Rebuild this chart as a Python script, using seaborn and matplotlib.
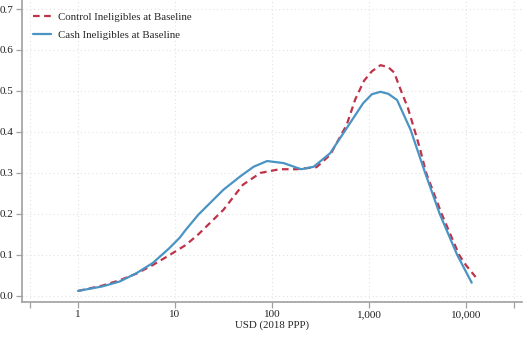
import numpy as np
import pandas as pd
import matplotlib
matplotlib.use("Agg")
import matplotlib.pyplot as plt
import matplotlib.ticker as mticker
import seaborn as sns

# values (USD, density)
cash_usd = [1, 1.78, 2.69, 3.98, 5.89, 8.71, 11.2, 12.9, 17.4, 31.6, 46.8, 64.6,
            89.1, 132, 200, 269, 398, 589, 871, 1072, 1318, 1585, 1950, 2692,
            3162, 3802, 5370, 8128, 11482]
cash_density = [0.012, 0.023, 0.035, 0.055, 0.080, 0.116, 0.142, 0.161, 0.198,
                0.259, 0.291, 0.315, 0.329, 0.324, 0.309, 0.315, 0.348, 0.409,
                0.470, 0.492, 0.498, 0.493, 0.478, 0.405, 0.356, 0.300, 0.200,
                0.100, 0.032]

control_usd = [1, 1.78, 2.69, 3.98, 5.89, 8.71, 12.9, 17.4, 31.6, 50.1, 75.9, 120,
               178, 288, 398, 589, 724, 891, 1072, 1318, 1585, 1820, 2188, 2512,
               2951, 3388, 3890, 5623, 8511, 10000, 12589]
control_density = [0.012, 0.025, 0.038, 0.054, 0.075, 0.099, 0.124, 0.150, 0.210,
                   0.271, 0.300, 0.309, 0.309, 0.314, 0.344, 0.417, 0.480, 0.525,
                   0.548, 0.563, 0.558, 0.545, 0.495, 0.460, 0.405, 0.356, 0.300,
                   0.200, 0.100, 0.075, 0.046]

series_labels = ["Control Ineligibles at Baseline", "Cash Ineligibles at Baseline"]
x_ticks = [10 ** -0.5, 1, 10, 100, 1000, 10000, 10 ** 4.5]
x_ticklabels = ["", "1", "10", "100", "1,000", "10,000", ""]
y_ticks = [0.0, 0.1, 0.2, 0.3, 0.4, 0.5, 0.6, 0.7]

df = pd.concat([
    pd.DataFrame({"usd": control_usd, "density": control_density, "group": series_labels[0]}),
    pd.DataFrame({"usd": cash_usd, "density": cash_density, "group": series_labels[1]}),
])

sns.set_style("white")
plt.rcParams["font.family"] = ["Liberation Serif", "DejaVu Serif"]

fig = plt.figure(figsize=(5.25, 3.38), dpi=100)
ax = fig.add_axes([0.042, 0.107, 0.952, 0.893])

palette = {series_labels[0]: "#bf3349", series_labels[1]: "#4a94c4"}
sns.lineplot(data=df, x="usd", y="density", hue="group", style="group",
             hue_order=series_labels, style_order=series_labels,
             palette=palette, dashes={series_labels[0]: (3, 2), series_labels[1]: ""},
             linewidth=1.6, sort=False, estimator=None, ax=ax)

ax.set_xscale("log")
ax.set_xlim(10 ** -0.577, 10 ** 4.577)
ax.set_ylim(-0.0146, 0.722)
ax.xaxis.set_major_locator(mticker.FixedLocator(x_ticks))
ax.xaxis.set_minor_locator(mticker.NullLocator())
ax.set_xticks(x_ticks)
ax.set_xticklabels(x_ticklabels)
ax.set_yticks(y_ticks)
ax.yaxis.set_major_formatter(mticker.FormatStrFormatter("%.1f"))

ax.grid(True, color="#e2e2e2", linestyle=(0, (1, 2.5)), linewidth=0.8)
for side in ["top", "right"]:
    ax.spines[side].set_visible(False)
for side in ["left", "bottom"]:
    ax.spines[side].set_color("#a0a0a0")
    ax.spines[side].set_linewidth(1.2)
ax.tick_params(axis="both", length=4, width=0.9, color="#a0a0a0",
               labelsize=8, labelcolor="#222222", pad=2, direction="out",
               bottom=True, left=True)

ax.set_xlabel("USD (2018 PPP)", fontsize=7.8, color="#222222", labelpad=1)
ax.set_ylabel("")

ax.legend(loc="upper left", frameon=False, fontsize=7.8, handlelength=1.7,
          bbox_to_anchor=(0.0, 0.995), borderaxespad=0.6, labelspacing=0.75,
          handletextpad=0.6)

fig.savefig("out.png", dpi=100)
